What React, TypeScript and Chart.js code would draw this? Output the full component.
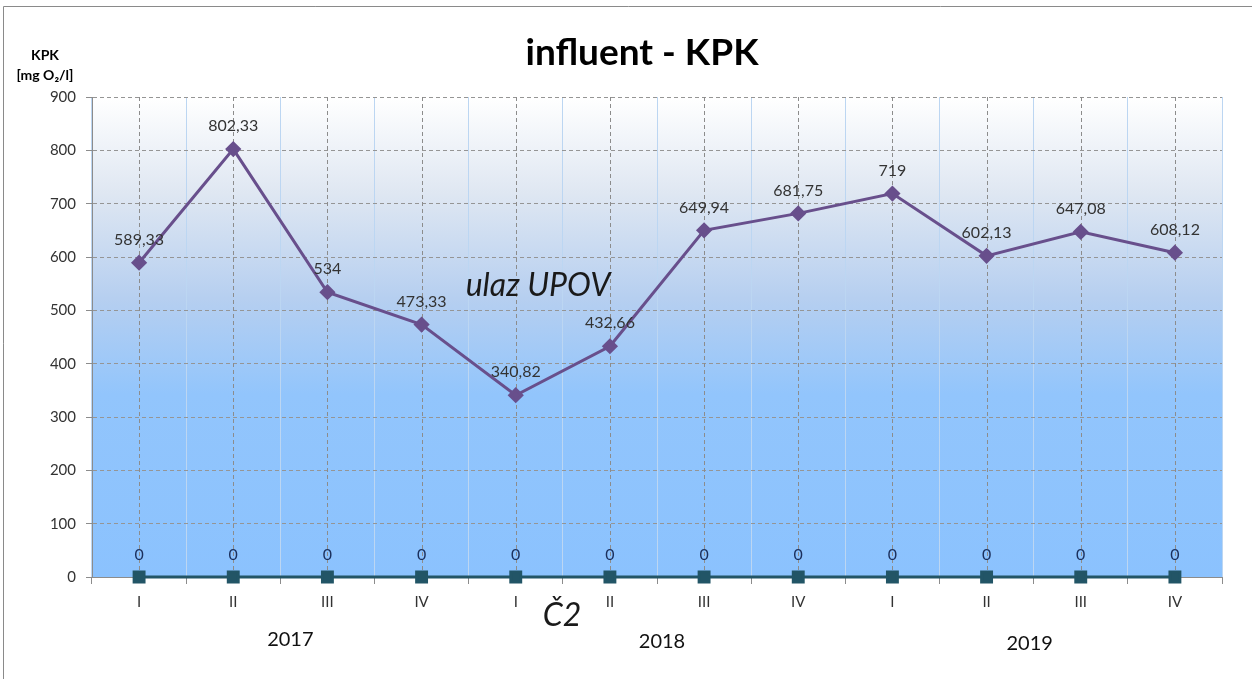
import React, { useEffect, useRef } from "react";
import { Chart, registerables } from "chart.js";

Chart.register(...registerables);

const quarters = ["I", "II", "III", "IV", "I", "II", "III", "IV", "I", "II", "III", "IV"];
const years = ["2017", "2018", "2019"];
const influentValues = [589.33, 802.33, 534, 473.33, 340.82, 432.66, 649.94, 681.75, 719, 602.13, 647.08, 608.12];
const c2Values = [0, 0, 0, 0, 0, 0, 0, 0, 0, 0, 0, 0];
const yTicks = [0, 100, 200, 300, 400, 500, 600, 700, 800, 900];

const FONT = "Lato, 'Open Sans', sans-serif";

const fmt = (v: number) => String(v).replace(".", ",");

const decorPlugin = {
  id: "decor",
  beforeDraw(chart: any) {
    const { ctx, chartArea: a } = chart;
    ctx.save();
    ctx.fillStyle = "#ffffff";
    ctx.fillRect(0, 0, chart.width, chart.height);
    ctx.strokeStyle = "#8a8a8a";
    ctx.lineWidth = 1;
    ctx.beginPath();
    ctx.moveTo(3.5, chart.height + 2);
    ctx.lineTo(3.5, 6.5);
    ctx.lineTo(chart.width + 2, 6.5);
    ctx.stroke();
    const g = ctx.createLinearGradient(0, a.top, 0, a.bottom);
    g.addColorStop(0, "#ffffff");
    g.addColorStop(0.2, "#dfe7f2");
    g.addColorStop(0.42, "#b6cff0");
    g.addColorStop(0.62, "#92c5fc");
    g.addColorStop(1, "#8bc2fe");
    ctx.fillStyle = g;
    ctx.fillRect(a.left, a.top, a.right - a.left, a.bottom - a.top);
    ctx.restore();
  },
  beforeDatasetsDraw(chart: any) {
    const { ctx, chartArea: a, scales } = chart;
    const x = scales.x;
    ctx.save();
    ctx.strokeStyle = "#8c8c8c";
    ctx.lineWidth = 1;
    ctx.setLineDash([4, 3]);
    for (let i = 0; i < quarters.length; i++) {
      const px = Math.round(x.getPixelForValue(i)) + 0.5;
      ctx.beginPath();
      ctx.moveTo(px, a.top);
      ctx.lineTo(px, a.bottom);
      ctx.stroke();
    }
    ctx.restore();
  },
  afterDatasetsDraw(chart: any) {
    const { ctx, scales } = chart;
    ctx.save();
    ctx.textAlign = "center";
    ctx.textBaseline = "middle";
    ctx.font = `16px ${FONT}`;
    const m0 = chart.getDatasetMeta(0);
    m0.data.forEach((pt: any, i: number) => {
      ctx.fillStyle = "#333333";
      ctx.fillText(fmt(influentValues[i]), pt.x, pt.y - 23);
    });
    const m1 = chart.getDatasetMeta(1);
    m1.data.forEach((pt: any, i: number) => {
      ctx.fillStyle = "#1b2f5c";
      ctx.fillText(fmt(c2Values[i]), pt.x, pt.y - 22);
    });
    ctx.fillStyle = "#000000";
    ctx.font = `bold 37px ${FONT}`;
    ctx.fillText("influent - KPK", 642, 53);
    ctx.font = `bold 14px ${FONT}`;
    ctx.fillText("KPK", 45, 55);
    ctx.fillText("[mg O\u2082/l]", 45, 75);
    ctx.font = `italic 32px ${FONT}`;
    ctx.fillStyle = "#1a1a1a";
    ctx.fillText("ulaz UPOV", 538, 286);
    ctx.fillText("\u010C2", 562, 616);
    ctx.font = `20px ${FONT}`;
    ctx.fillStyle = "#111111";
    const x = scales.x;
    const yearPos = [
      { x: (x.getPixelForValue(1) + x.getPixelForValue(2)) / 2 + 10, y: 640 },
      { x: (x.getPixelForValue(5) + x.getPixelForValue(6)) / 2 + 5, y: 642 },
      { x: (x.getPixelForValue(9) + x.getPixelForValue(10)) / 2 - 4, y: 644 },
    ];
    years.forEach((yr, i) => ctx.fillText(yr, yearPos[i].x, yearPos[i].y));
    ctx.restore();
  },
};

export default function App() {
  const ref = useRef<HTMLCanvasElement>(null);
  useEffect(() => {
    if (!ref.current) return;
    const chart = new Chart(ref.current, {
      type: "line",
      data: {
        labels: quarters,
        datasets: [
          {
            label: "ulaz UPOV",
            data: influentValues,
            borderColor: "#684f8c",
            backgroundColor: "#684f8c",
            borderWidth: 3,
            pointStyle: "rectRot",
            pointRadius: 6,
            pointHoverRadius: 6,
            tension: 0,
            clip: false,
          },
          {
            label: "Č2",
            data: c2Values,
            borderColor: "#225566",
            backgroundColor: "#225566",
            borderWidth: 3,
            pointStyle: "rect",
            pointRadius: 7,
            pointHoverRadius: 7,
            tension: 0,
            clip: false,
          },
        ],
      },
      options: {
        responsive: false,
        animation: false,
        events: [],
        layout: { padding: { left: 0, right: 30, top: 97, bottom: 0 } },
        plugins: {
          legend: { display: false },
          title: { display: false },
          tooltip: { enabled: false },
        },
        scales: {
          x: {
            type: "category",
            offset: true,
            grid: {
              offset: true,
              color: "#bcd6f2",
              lineWidth: 1,
              tickLength: 7,
              tickColor: "#8c8c8c",
            },
            border: { display: true, color: "#8c8c8c" },
            ticks: {
              color: "#333333",
              font: { family: FONT, size: 15 },
              padding: 9,
              maxRotation: 0,
            },
            afterFit(scale: any) {
              scale.height = 102;
            },
          },
          y: {
            min: 0,
            max: 900,
            afterBuildTicks(scale: any) {
              scale.ticks = yTicks.map((v) => ({ value: v }));
            },
            grid: {
              color: "#959595",
              lineWidth: 1,
              tickLength: 6,
              tickColor: "#8c8c8c",
              tickBorderDash: [],
            },
            border: { display: true, color: "#8c8c8c", dash: [4, 3] },
            ticks: {
              color: "#333333",
              font: { family: FONT, size: 15 },
              padding: 10,
            },
            afterFit(scale: any) {
              scale.width = 92;
            },
          },
        },
      },
      plugins: [decorPlugin],
    });
    return () => chart.destroy();
  }, []);
  return (
    <div style={{ position: "fixed", left: 0, top: 0, width: 1252, height: 679 }}>
      <canvas ref={ref} width={1252} height={679} style={{ display: "block" }} />
    </div>
  );
}
